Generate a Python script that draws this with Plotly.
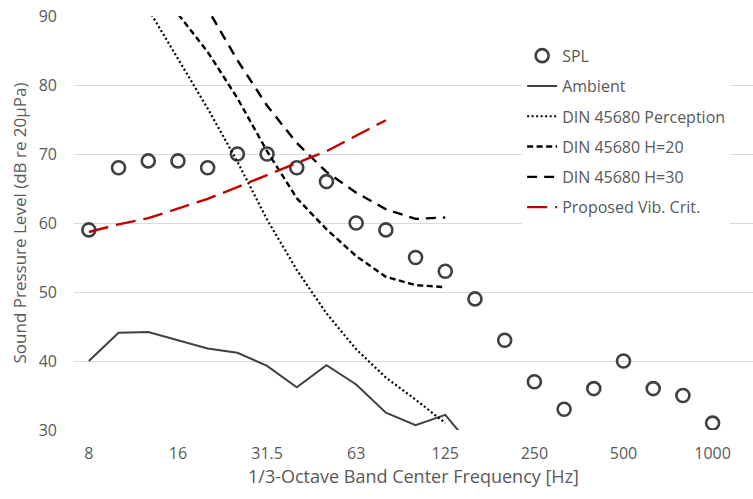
import plotly.graph_objects as go

freqs = ["8", "10", "12.5", "16", "20", "25", "31.5", "40", "50", "63", "80",
         "100", "125", "160", "200", "250", "315", "400", "500", "630", "800", "1000"]
tick_labels = ["8", "16", "31.5", "63", "125", "250", "500", "1000"]

spl = [59, 68, 69, 69, 68, 70, 70, 68, 66, 60, 59, 55, 53, 49, 43, 37, 33, 36, 40, 36, 35, 31]
ambient = [40, 44.1, 44.2, 43.0, 41.8, 41.2, 39.3, 36.2, 39.4, 36.6, 32.5, 30.7, 32.2, 27,
           None, None, None, None, None, None, None, None]
din_perception = [106, 98, 91, 83.9, 76.6, 68.9, 60.5, 53.2, 46.9, 41.7, 37.6, 34.4, 31,
                  None, None, None, None, None, None, None, None, None]
din_h20 = [108, 102, 96, 90.3, 84.8, 78.1, 70.4, 63.6, 59.1, 55.2, 52.2, 51.0, 50.7,
           None, None, None, None, None, None, None, None, None]
din_h30 = [110, 104, 98, 94, 91, 83.6, 77.0, 71.6, 67.4, 64.4, 62.0, 60.6, 60.8,
           None, None, None, None, None, None, None, None, None]
proposed = [58.7, 59.8, 60.7, 62.1, 63.5, 65.2, 67.0, 68.7, 70.4, 72.6, 74.9,
            None, None, None, None, None, None, None, None, None, None, None]

idx = list(range(len(freqs)))
tick_idx = [freqs.index(t) for t in tick_labels]

FONT = "Open Sans"
GRAY = "#595959"
DARK = "#404040"

fig = go.Figure()
fig.add_trace(go.Scatter(x=idx, y=spl, mode="markers", name="SPL", legendgroup="a",
                         marker=dict(symbol="circle-open", size=13, color=DARK,
                                     line=dict(width=2.6, color=DARK))))
fig.add_trace(go.Scatter(x=idx, y=ambient, mode="lines", name="Ambient", legendgroup="b",
                         line=dict(color=DARK, width=2)))
fig.add_trace(go.Scatter(x=idx, y=din_perception, mode="lines", name="DIN 45680 Perception",
                         legendgroup="c", line=dict(color="black", width=2.2, dash="2px,2.5px")))
fig.add_trace(go.Scatter(x=idx, y=din_h20, mode="lines", name="DIN 45680 H=20",
                         legendgroup="d", line=dict(color="black", width=2.4, dash="6px,3.5px")))
fig.add_trace(go.Scatter(x=idx, y=din_h30, mode="lines", name="DIN 45680 H=30",
                         legendgroup="e", line=dict(color="black", width=2.4, dash="10px,7px")))
fig.add_trace(go.Scatter(x=idx, y=proposed, mode="lines", name="Proposed Vib. Crit.",
                         legendgroup="f", line=dict(color="#C00000", width=2.4, dash="20px,8px")))

fig.update_layout(
    width=753, height=499,
    margin=dict(l=74, r=0, t=16, b=69),
    paper_bgcolor="white", plot_bgcolor="white",
    font=dict(family=FONT, size=16, color=GRAY),
    showlegend=True,
    legend=dict(x=0.66, y=0.945, xanchor="left", yanchor="top",
                bgcolor="white", borderwidth=0, traceorder="grouped",
                tracegroupgap=6.5, font=dict(family=FONT, size=16, color=GRAY)),
    xaxis=dict(range=[-0.5, 22.36], tickmode="array", tickvals=tick_idx, ticktext=tick_labels,
               showgrid=False, zeroline=False, showline=False, ticks="",
               ticklabelstandoff=12,
               tickfont=dict(size=16, color=GRAY),
               title=dict(text="1/3-Octave Band Center Frequency [Hz]",
                          font=dict(size=18, color=GRAY), standoff=7)),
    yaxis=dict(range=[30, 90], dtick=10, showgrid=True, gridcolor="#D9D9D9", gridwidth=1,
               zeroline=False, showline=False, ticks="",
               ticklabelstandoff=16,
               tickfont=dict(size=16, color=GRAY),
               title=dict(text="Sound Pressure Level (dB re 20µPa)",
                          font=dict(size=17, color=GRAY), standoff=7)),
)

fig.write_html("out.html")
